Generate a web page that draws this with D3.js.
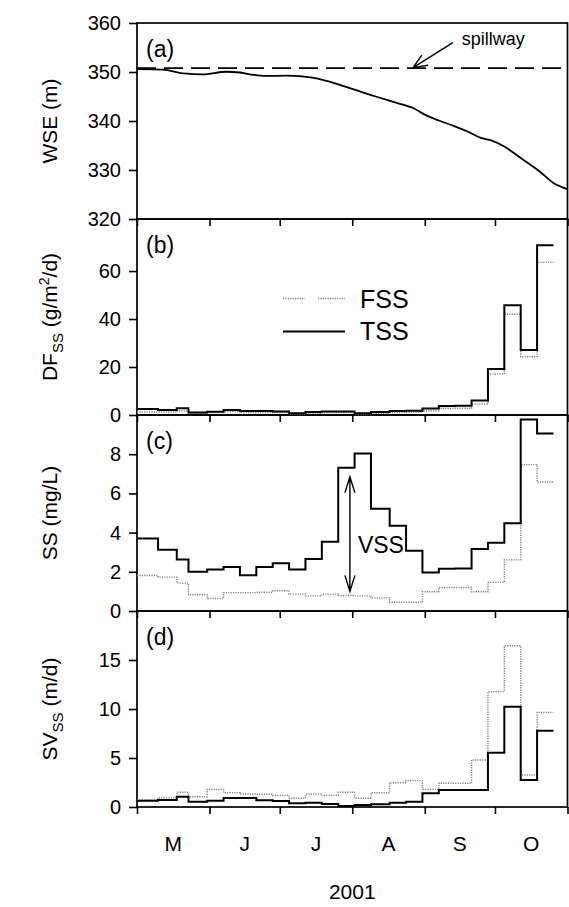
<!DOCTYPE html>
<html><head><meta charset="utf-8">
<script src="https://cdn.jsdelivr.net/npm/d3@7"></script>
<style>
body{margin:0;background:#fff;}
svg{display:block;font-family:"Liberation Sans",Arial,Helvetica,sans-serif;}
</style></head><body>
<svg id="chart" width="569" height="907"></svg>
<script>
// Water surface elevation (m)
const wseDates = ["2001-05-01","2001-05-12","2001-05-21","2001-05-29","2001-06-08","2001-06-14",
  "2001-06-20","2001-06-25","2001-07-04","2001-07-15","2001-07-21","2001-07-31","2001-08-11",
  "2001-08-20","2001-08-27","2001-09-01","2001-09-07","2001-09-13","2001-09-19","2001-09-25",
  "2001-09-29","2001-10-05","2001-10-12","2001-10-20","2001-10-26","2001-11-01"];
const wseValues = [350.6,350.5,349.7,349.5,350.05,349.9,349.4,349.2,349.25,348.85,348.2,346.7,345.0,
  343.7,342.65,341.3,340.1,339.05,337.9,336.55,336.1,334.8,332.45,329.75,327.35,326.1];
const spillwayLevel = 350.8;

// Sediment trap deployment periods: start of each period, plus end of the last one
const periodBounds = ["2001-05-01","2001-05-10","2001-05-18","2001-05-23","2001-05-31","2001-06-07",
  "2001-06-14","2001-06-21","2001-06-28","2001-07-05","2001-07-12","2001-07-19","2001-07-26",
  "2001-08-02","2001-08-09","2001-08-17","2001-08-24","2001-08-31","2001-09-07","2001-09-14",
  "2001-09-21","2001-09-28","2001-10-05","2001-10-12","2001-10-19","2001-10-26"];

// (b) deposition flux, g/m2/d
const dfTSS = [2.5,2.1,2.8,1.0,1.4,2.1,1.7,1.7,1.5,0.7,1.25,1.5,1.5,0.7,1.25,1.7,1.8,2.7,3.8,3.9,6.0,19.2,45.8,27.1,70.8];
const dfFSS = [1.25,1.25,1.8,0.7,1.0,1.4,1.0,1.0,1.0,0.3,0.7,1.0,1.0,0.15,0.7,1.0,1.1,1.8,2.8,2.8,4.6,17.1,42.0,24.3,63.6];
// (c) suspended solids, mg/L
const ssTSS = [3.7,3.12,2.63,2.0,2.12,2.24,1.82,2.24,2.43,2.12,2.65,3.53,7.31,8.03,5.22,4.35,3.07,1.96,2.16,2.17,3.16,3.48,4.48,9.77,9.06];
const ssFSS = [1.81,1.73,1.42,0.83,0.64,0.94,0.94,0.96,1.03,0.86,0.77,0.86,0.79,0.77,0.67,0.45,0.45,0.98,1.2,1.2,0.98,1.46,2.61,7.47,6.58];
// (d) settling velocity, m/d
const svTSS = [0.65,0.71,1.05,0.54,0.65,0.92,0.92,0.68,0.61,0.37,0.44,0.31,0.1,0.2,0.27,0.44,0.54,1.4,1.73,1.73,1.73,5.54,10.24,2.76,7.79];
const svFSS = [0.72,0.95,1.5,1.05,1.8,1.46,1.33,1.3,1.19,0.89,1.33,1.19,1.5,0.89,1.46,2.48,2.69,1.8,2.42,2.42,4.8,11.77,16.46,3.27,9.66];

// Axis ticks and labels
const monthTicks = ["2001-05-01","2001-06-01","2001-07-01","2001-08-01","2001-09-01","2001-10-01","2001-11-01"];
const monthLabels = ["M","J","J","A","S","O"];
const yearLabel = "2001";
const wseTicks = [320,330,340,350,360];
const dfTicks = [0,20,40,60];
const ssTicks = [0,2,4,6,8];
const svTicks = [0,5,10,15];

// VSS annotation (mg/L) and spillway pointer
const vssDate = "2001-07-31";
const vssRange = [1.0, 6.85];
const vssLabelAt = 2.95;
const spillwayArrow = {from: ["2001-09-13", 356.0], to: ["2001-08-27", 350.9]};

const parse = d3.utcParse("%Y-%m-%d");
const svg = d3.select("#chart");
const left = 137, right = 567.5, panelH = 196;
const tops = [23, 219, 415, 611];
const FONT_TICK = 20, FONT_TITLE = 21;

const x = d3.scaleUtc()
  .domain([parse(monthTicks[0]), parse(monthTicks[monthTicks.length - 1])])
  .range([left, right]);

const panels = [
  {id:"a", domain:[320,360], ticks:wseTicks},
  {id:"b", domain:[0,81.7], ticks:dfTicks},
  {id:"c", domain:[0,10], ticks:ssTicks},
  {id:"d", domain:[0,20], ticks:svTicks}
];
panels.forEach((p, i) => {
  p.top = tops[i];
  p.y = d3.scaleLinear().domain(p.domain).range([p.top + panelH, p.top]);
});

// y axes
panels.forEach(p => {
  const g = svg.append("g").attr("transform", `translate(${left},0)`)
    .call(d3.axisLeft(p.y).tickValues(p.ticks).tickSize(8).tickPadding(8).tickFormat(d3.format("d")));
  g.select(".domain").remove();
  g.selectAll(".tick line").attr("stroke", "#000").attr("stroke-width", 1.6);
  g.selectAll(".tick text").attr("font-size", FONT_TICK).attr("fill", "#000")
    .attr("font-family", '"Liberation Sans",Arial,sans-serif');
});

// x tick marks under each panel
panels.forEach(p => {
  const g = svg.append("g").attr("transform", `translate(0,${p.top + panelH})`)
    .call(d3.axisBottom(x).tickValues(monthTicks.map(parse)).tickSize(7).tickFormat(""));
  g.select(".domain").remove();
  g.selectAll(".tick line").attr("stroke", "#000").attr("stroke-width", 1.6);
});

// Frames
panels.forEach(p => {
  svg.append("rect").attr("x", left).attr("y", p.top).attr("width", right - left).attr("height", panelH)
    .attr("fill", "none").attr("stroke", "#000").attr("stroke-width", 1.7);
});

// Panel letters
panels.forEach(p => {
  svg.append("text").attr("x", 146).attr("y", p.top + 34).attr("font-size", 23)
    .text(`(${p.id})`);
});

// (a) water level
const pa = panels[0];
svg.append("path")
  .datum(wseDates.map((d, i) => [parse(d), wseValues[i]]))
  .attr("fill", "none").attr("stroke", "#000").attr("stroke-width", 1.8)
  .attr("d", d3.line().x(d => x(d[0])).y(d => pa.y(d[1])).curve(d3.curveMonotoneX));
svg.append("line")
  .attr("x1", left).attr("x2", right)
  .attr("y1", pa.y(spillwayLevel)).attr("y2", pa.y(spillwayLevel))
  .attr("stroke", "#000").attr("stroke-width", 1.6).attr("stroke-dasharray", "19,8");

function openHead(tipX, tipY, fromX, fromY, len, half) {
  const dx = tipX - fromX, dy = tipY - fromY, L = Math.hypot(dx, dy);
  const ux = dx / L, uy = dy / L, px = -uy, py = ux;
  const bx = tipX - ux * len, by = tipY - uy * len;
  return `M${bx + px * half},${by + py * half}L${tipX},${tipY}L${bx - px * half},${by - py * half}`;
}

const ax0 = x(parse(spillwayArrow.from[0])), ay0 = pa.y(spillwayArrow.from[1]);
const ax1 = x(parse(spillwayArrow.to[0])), ay1 = pa.y(spillwayArrow.to[1]);
svg.append("path").attr("fill", "none").attr("stroke", "#000").attr("stroke-width", 1.4)
  .attr("d", `M${ax0},${ay0}L${ax1},${ay1}` + openHead(ax1, ay1, ax0, ay0, 14, 6));
svg.append("text").attr("x", ax0 + 9).attr("y", ay0 + 2).attr("font-size", 18).text("spillway");

// Step series
function stepPoints(vals) {
  const pts = vals.map((v, i) => [parse(periodBounds[i]), v]);
  pts.push([parse(periodBounds[vals.length]), vals[vals.length - 1]]);
  return pts;
}
function drawSteps(p, vals, kind) {
  const line = d3.line().x(d => x(d[0])).y(d => p.y(d[1])).curve(d3.curveStepAfter);
  const path = svg.append("path").datum(stepPoints(vals)).attr("fill", "none").attr("d", line);
  if (kind === "TSS") path.attr("stroke", "#000").attr("stroke-width", 2);
  else path.attr("stroke", "#808080").attr("stroke-width", 1.4).attr("stroke-dasharray", "1.2,1.2");
}
const pb = panels[1], pc = panels[2], pd = panels[3];
drawSteps(pb, dfFSS, "FSS"); drawSteps(pb, dfTSS, "TSS");
drawSteps(pc, ssFSS, "FSS"); drawSteps(pc, ssTSS, "TSS");
drawSteps(pd, svFSS, "FSS"); drawSteps(pd, svTSS, "TSS");

// Legend in (b)
const lgX0 = 283, lgX1 = 345;
svg.append("path").attr("fill", "none").attr("stroke", "#808080").attr("stroke-width", 1.4)
  .attr("stroke-dasharray", "1.2,1.2").attr("d", `M${lgX0},298.5H305M318,298.5H${lgX1}`);
svg.append("line").attr("x1", lgX0).attr("x2", lgX1).attr("y1", 331.5).attr("y2", 331.5)
  .attr("stroke", "#000").attr("stroke-width", 2);
svg.append("text").attr("x", 360).attr("y", 308).attr("font-size", 25).text("FSS");
svg.append("text").attr("x", 360).attr("y", 340).attr("font-size", 25).text("TSS");

// VSS double arrow in (c)
const vx = x(parse(vssDate));
const vTop = pc.y(vssRange[1]), vBot = pc.y(vssRange[0]);
svg.append("path").attr("fill", "none").attr("stroke", "#000").attr("stroke-width", 1.4)
  .attr("d", `M${vx},${vTop}L${vx},${vBot}` + openHead(vx, vTop, vx, vBot, 16, 5) + openHead(vx, vBot, vx, vTop, 16, 5));
svg.append("text").attr("x", vx + 8).attr("y", pc.y(vssLabelAt)).attr("font-size", 23).text("VSS");

// Month labels and year
const bottom = pd.top + panelH;
monthLabels.forEach((m, i) => {
  const a = parse(monthTicks[i]), b = parse(monthTicks[i + 1]);
  svg.append("text").attr("x", x(new Date((+a + +b) / 2))).attr("y", bottom + 44)
    .attr("text-anchor", "middle").attr("font-size", FONT_TITLE).text(m);
});
svg.append("text").attr("x", (left + right) / 2).attr("y", bottom + 92)
  .attr("text-anchor", "middle").attr("font-size", FONT_TITLE).text(yearLabel);

// Axis titles
function yTitle(p, build) {
  const t = svg.append("text")
    .attr("transform", `translate(57,${p.top + panelH / 2}) rotate(-90)`)
    .attr("text-anchor", "middle").attr("font-size", FONT_TITLE);
  build(t);
}
yTitle(pa, t => t.text("WSE (m)"));
yTitle(pb, t => {
  t.append("tspan").text("DF");
  t.append("tspan").attr("font-size", 15).attr("dy", 6).text("SS");
  t.append("tspan").attr("dy", -6).text(" (g/m");
  t.append("tspan").attr("font-size", 14).attr("dy", -8).text("2");
  t.append("tspan").attr("dy", 8).text("/d)");
});
yTitle(pc, t => t.text("SS (mg/L)"));
yTitle(pd, t => {
  t.append("tspan").text("SV");
  t.append("tspan").attr("font-size", 15).attr("dy", 6).text("SS");
  t.append("tspan").attr("dy", -6).text(" (m/d)");
});
</script>
</body></html>
